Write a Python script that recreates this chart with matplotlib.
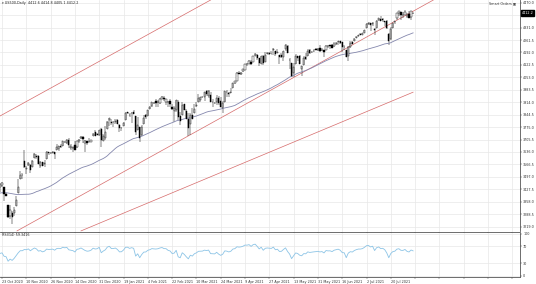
import matplotlib
matplotlib.use("Agg")
import matplotlib.pyplot as plt
import matplotlib.transforms as mtransforms
import numpy as np
import pandas as pd

# closes before the first visible bar, only used to seed the SMA(50) and RSI(14)
warmup_close = [
    3360, 3333, 3380, 3373, 3372, 3382, 3389, 3374, 3385, 3397, 3431, 3443, 3478, 3484, 3508, 3500,
    3527, 3580, 3455, 3427, 3410, 3331, 3399, 3339, 3341, 3383, 3401, 3385, 3357, 3319, 3281, 3315,
    3237, 3246, 3298, 3351, 3335, 3363, 3380, 3348, 3408, 3361, 3419, 3446, 3477, 3534, 3512, 3489,
    3483, 3484, 3427, 3443, 3436,
]

# visible daily bars, 22 Oct 2020 .. 4 Aug 2021
bar_open = [
    3438, 3453, 3441, 3403, 3342, 3277, 3293, 3296, 3336, 3406, 3485, 3508, 3583, 3543, 3563, 3562,
    3552, 3601, 3611, 3612, 3560, 3579, 3567, 3595, 3635, 3629, 3632, 3634, 3645, 3653, 3669, 3670,
    3694, 3684, 3705, 3659, 3656, 3675, 3666, 3696, 3714, 3722, 3684, 3698, 3693, 3694, 3723, 3750,
    3736, 3733, 3764, 3698, 3712, 3764, 3815, 3803, 3801, 3802, 3815, 3788, 3768, 3781, 3816, 3857,
    3845, 3851, 3862, 3836, 3756, 3778, 3732, 3791, 3840, 3837, 3878, 3892, 3910, 3920, 3917, 3911,
    3934, 3939, 3918, 3915, 3921, 3886, 3865, 3873, 3915, 3839, 3842, 3903, 3863, 3818, 3793, 3844,
    3851, 3891, 3915, 3924, 3943, 3943, 3974, 3949, 3953, 3913, 3912, 3916, 3937, 3919, 3879, 3917,
    3969, 3963, 3967, 3992, 4020, 4035, 4075, 4074, 4089, 4096, 4125, 4130, 4141, 4140, 4175, 4180,
    4159, 4128, 4171, 4139, 4185, 4188, 4185, 4206, 4198, 4191, 4179, 4177, 4169, 4210, 4229, 4150,
    4131, 4075, 4130, 4170, 4170, 4098, 4122, 4168, 4170, 4205, 4192, 4201, 4210, 4204, 4216, 4207,
    4206, 4207, 4229, 4233, 4232, 4229, 4242, 4248, 4255, 4248, 4220, 4204, 4173, 4222, 4249, 4256,
    4274, 4285, 4294, 4290, 4300, 4326, 4352, 4356, 4351, 4321, 4330, 4373, 4381, 4381, 4369, 4367,
    4297, 4266, 4331, 4361, 4382, 4410, 4416, 4402, 4403, 4395, 4407, 4392, 4412.6,
]
bar_high = [
    3460, 3466, 3441, 3409, 3342, 3342, 3304, 3330, 3389, 3486, 3529, 3521, 3646, 3557, 3582, 3570,
    3593, 3628, 3624, 3619, 3585, 3582, 3589, 3643, 3636, 3636, 3644, 3634, 3679, 3670, 3682, 3699,
    3698, 3709, 3712, 3678, 3665, 3698, 3695, 3711, 3725, 3726, 3702, 3698, 3712, 3703, 3740, 3756,
    3744, 3760, 3770, 3738, 3783, 3811, 3826, 3818, 3810, 3820, 3823, 3795, 3775, 3804, 3859, 3861,
    3852, 3860, 3870, 3836, 3830, 3778, 3784, 3843, 3848, 3872, 3894, 3915, 3918, 3931, 3925, 3937,
    3948, 3950, 3933, 3921, 3931, 3902, 3895, 3928, 3925, 3862, 3914, 3906, 3874, 3852, 3851, 3881,
    3903, 3918, 3960, 3944, 3948, 3970, 3981, 3983, 3970, 3930, 3916, 3955, 3949, 3942, 3919, 3978,
    3981, 3969, 3994, 4021, 4035, 4083, 4087, 4083, 4099, 4129, 4131, 4148, 4151, 4173, 4191, 4181,
    4160, 4175, 4179, 4194, 4194, 4193, 4201, 4218, 4199, 4209, 4180, 4187, 4202, 4238, 4236, 4162,
    4135, 4131, 4184, 4171, 4178, 4117, 4172, 4189, 4210, 4214, 4202, 4213, 4218, 4215, 4234, 4217,
    4206, 4234, 4233, 4236, 4238, 4249, 4249, 4255, 4257, 4251, 4233, 4204, 4226, 4255, 4256, 4271,
    4286, 4292, 4300, 4302, 4320, 4355, 4360, 4356, 4361, 4330, 4372, 4387, 4393, 4382, 4370, 4376,
    4298, 4336, 4359, 4369, 4415, 4423, 4416, 4416, 4430, 4412, 4422, 4424, 4414.8,
]
bar_low = [
    3415, 3440, 3364, 3388, 3268, 3259, 3233, 3279, 3336, 3405, 3485, 3484, 3548, 3511, 3557, 3519,
    3552, 3601, 3595, 3567, 3544, 3556, 3552, 3595, 3618, 3624, 3629, 3595, 3645, 3644, 3657, 3670,
    3684, 3678, 3660, 3645, 3634, 3645, 3659, 3685, 3710, 3685, 3636, 3676, 3689, 3689, 3723, 3723,
    3730, 3726, 3663, 3695, 3705, 3764, 3783, 3789, 3777, 3791, 3792, 3750, 3755, 3781, 3816, 3846,
    3831, 3797, 3848, 3733, 3756, 3694, 3725, 3791, 3822, 3837, 3874, 3886, 3902, 3885, 3890, 3905,
    3930, 3923, 3901, 3885, 3885, 3868, 3805, 3860, 3815, 3789, 3842, 3868, 3818, 3723, 3730, 3818,
    3851, 3885, 3915, 3915, 3938, 3923, 3949, 3935, 3914, 3886, 3905, 3900, 3901, 3889, 3853, 3917,
    3943, 3944, 3966, 3992, 4018, 4035, 4069, 4068, 4083, 4092, 4114, 4125, 4120, 4139, 4170, 4150,
    4118, 4126, 4123, 4138, 4182, 4176, 4181, 4176, 4174, 4188, 4128, 4160, 4147, 4202, 4188, 4098,
    4057, 4057, 4130, 4143, 4128, 4061, 4122, 4151, 4170, 4182, 4188, 4197, 4203, 4200, 4197, 4198,
    4167, 4207, 4219, 4209, 4218, 4221, 4233, 4235, 4238, 4196, 4204, 4165, 4145, 4217, 4240, 4256,
    4271, 4280, 4287, 4288, 4300, 4326, 4348, 4314, 4340, 4289, 4329, 4365, 4368, 4360, 4341, 4324,
    4233, 4262, 4327, 4351, 4375, 4398, 4373, 4386, 4403, 4386, 4385, 4374, 4405.1,
]
bar_close = [
    3453, 3465, 3400, 3391, 3271, 3310, 3270, 3310, 3370, 3443, 3510, 3509, 3550, 3545, 3573, 3537,
    3585, 3627, 3610, 3568, 3582, 3558, 3577, 3635, 3629, 3632, 3638, 3622, 3662, 3669, 3666, 3699,
    3692, 3702, 3673, 3668, 3663, 3647, 3695, 3702, 3722, 3709, 3695, 3687, 3690, 3703, 3735, 3727,
    3732, 3756, 3701, 3727, 3748, 3804, 3825, 3799, 3801, 3810, 3795, 3768, 3770, 3798, 3851, 3853,
    3841, 3855, 3849, 3750, 3787, 3714, 3773, 3826, 3830, 3871, 3886, 3915, 3911, 3909, 3916, 3934,
    3944, 3932, 3931, 3913, 3906, 3876, 3881, 3925, 3829, 3811, 3901, 3870, 3819, 3768, 3842, 3821,
    3875, 3898, 3939, 3943, 3945, 3969, 3962, 3974, 3915, 3913, 3910, 3940, 3910, 3889, 3909, 3975,
    3971, 3959, 3973, 4020, 4030, 4078, 4074, 4080, 4097, 4129, 4128, 4142, 4125, 4170, 4185, 4163,
    4135, 4173, 4135, 4180, 4188, 4186, 4183, 4211, 4181, 4192, 4165, 4168, 4201, 4233, 4189, 4152,
    4063, 4113, 4174, 4163, 4128, 4116, 4160, 4156, 4198, 4188, 4195, 4200, 4204, 4210, 4202, 4208,
    4192, 4230, 4226, 4227, 4219, 4239, 4247, 4255, 4246, 4224, 4222, 4166, 4224, 4246, 4242, 4266,
    4281, 4291, 4291, 4298, 4320, 4352, 4356, 4344, 4358, 4320, 4370, 4385, 4369, 4374, 4361, 4327,
    4258, 4323, 4359, 4368, 4412, 4422, 4401, 4400, 4419, 4395, 4387, 4423, 4412.2,
]

date_labels = [
    "23 Oct 2020", "10 Nov 2020", "26 Nov 2020", "14 Dec 2020", "31 Dec 2020", "19 Jan 2021",
    "4 Feb 2021", "22 Feb 2021", "10 Mar 2021", "24 Mar 2021", "9 Apr 2021", "27 Apr 2021",
    "13 May 2021", "31 May 2021", "16 Jun 2021", "2 Jul 2021", "20 Jul 2021",
]
price_ticks = [
    4470.0, 4400.5, 4331.0, 4261.5, 4192.0, 4122.5, 4053.0, 3983.5, 3914.0, 3844.5,
    3775.0, 3705.5, 3636.0, 3566.5, 3497.0, 3427.5, 3358.0, 3288.5, 3219.0,
]
rsi_ticks = [100, 70, 30, 0]

# hand-drawn channel lines: (bar, price) -> (bar, price)
channel_lines = [
    ((0, 3837), (104, 4485)),
    ((8.4, 3195), (214, 4485)),
    ((40, 3195), (204, 3970)),
]

symbol_title = "US500,Daily  4412.6 4414.8 4405.1 4412.2"

FS = 2.4
GRID = "#e8e8e8"
W, H = 536, 284


def main() -> None:
    fig = plt.figure(figsize=(W / 100, H / 100), dpi=100)
    right = 520 / W
    ax = fig.add_axes([0, 1 - 231.5 / H, right, 231.5 / H])
    ax_rsi = fig.add_axes([0, 1 - 276.5 / H, right, 44 / H])

    o = np.array(bar_open)
    hi = np.array(bar_high)
    lo = np.array(bar_low)
    c = np.array(bar_close)
    idx = np.arange(len(c))

    closes = pd.Series(warmup_close + bar_close, dtype=float)
    sma = closes.rolling(50).mean().to_numpy()[len(warmup_close):]
    delta = closes.diff()
    gain = delta.clip(lower=0).ewm(alpha=1 / 14, adjust=False).mean()
    loss = (-delta.clip(upper=0)).ewm(alpha=1 / 14, adjust=False).mean()
    rsi = (100 - 100 / (1 + gain / loss)).to_numpy()[len(warmup_close):]

    x_max = (W * right + 0.025) / 2.025
    tick_pos = np.arange(1, x_max, 12)
    tick_lab = [date_labels[k] if k < len(date_labels) else "" for k in range(len(tick_pos))]

    for a in (ax, ax_rsi):
        a.set_xlim(0, x_max)
        a.set_xticks(tick_pos)
        a.grid(True, color=GRID, linewidth=0.5)
        a.set_axisbelow(True)
        a.yaxis.tick_right()
        a.tick_params(axis="y", labelsize=FS, length=1.5, width=0.3, pad=0.8, colors="#333333")
        a.tick_params(axis="x", length=1.5, width=0.3, colors="#333333")
        for side in ("left", "top"):
            a.spines[side].set_visible(False)
        a.spines["right"].set_color("#555555")
        a.spines["bottom"].set_color("#555555")
        a.spines["right"].set_linewidth(0.6)
        a.spines["bottom"].set_linewidth(0.6)

    ax.set_xticklabels([])
    ax_rsi.set_xticklabels(tick_lab, fontsize=FS, ha="left")
    ax_rsi.tick_params(axis="x", pad=1.2)

    # candles
    ax.vlines(idx, lo, hi, color="black", linewidth=0.35, zorder=2)
    up = c >= o
    body = np.maximum(np.abs(c - o), 0.6)
    ax.bar(idx[up], body[up], bottom=o[up], width=0.62, facecolor="white",
           edgecolor="black", linewidth=0.3, zorder=3)
    ax.bar(idx[~up], body[~up], bottom=c[~up], width=0.62, facecolor="black",
           edgecolor="black", linewidth=0.3, zorder=3)

    ax.plot(idx, sma, color="#8487ad", linewidth=0.6, zorder=2.5)
    for (x0, y0), (x1, y1) in channel_lines:
        ax.plot([x0, x1], [y0, y1], color="#d66a6a", linewidth=0.5, zorder=1.5)

    ax.set_ylim(3191.7, 4485.1)
    ax.set_yticks(price_ticks)
    ax.set_yticklabels([f"{v:.1f}" for v in price_ticks])

    trans = mtransforms.blended_transform_factory(ax.transAxes, ax.transData)
    ax.text(1.003, c[-1], f"{c[-1]:.1f}", transform=trans, fontsize=FS, color="white",
            va="center", ha="left", zorder=5, clip_on=False,
            bbox=dict(boxstyle="square,pad=0.25", facecolor="black", edgecolor="black"))

    ax.text(0.004, 0.995, "\u25be " + symbol_title, transform=ax.transAxes,
            fontsize=FS, va="top", ha="left", color="#222222")
    ax.text(0.992, 0.995, "Smart Orders \u25a3", transform=ax.transAxes,
            fontsize=FS, va="top", ha="right", color="#333333")

    ax_rsi.plot(idx, rsi, color="#8cc4e6", linewidth=0.6)
    ax_rsi.set_ylim(-2.4, 103.6)
    ax_rsi.set_yticks(rsi_ticks)
    ax_rsi.set_yticklabels([str(v) for v in rsi_ticks])
    ax_rsi.text(0.004, 0.985, f"RSI(14) {rsi[-1]:.4f}", transform=ax_rsi.transAxes,
                fontsize=FS, va="top", ha="left", color="#222222")

    fig.savefig("out.png", dpi=100, facecolor="white")


if __name__ == "__main__":
    main()
